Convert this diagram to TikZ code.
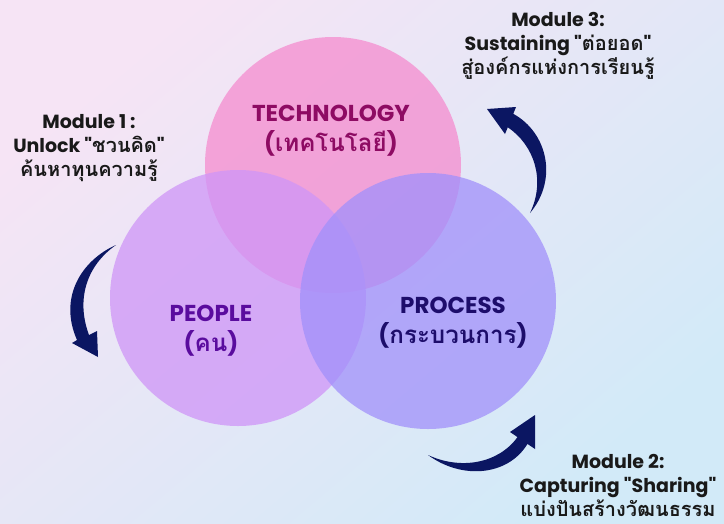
\documentclass[tikz,border=0pt]{standalone}
\usepackage{fontspec}
\usepackage{xcolor}
\usepackage{tikz}
\usetikzlibrary{positioning}
\setmainfont{Poppins}[Ligatures=TeXOff]
\newfontfamily\thai[Script=Thai, Scale=1.05]{Loma}

\definecolor{bgpink}{HTML}{F6E4F5}
\definecolor{bgblue}{HTML}{D2EAF8}
\definecolor{techfill}{HTML}{F58CCF}
\definecolor{peoplefill}{HTML}{CF95F7}
\definecolor{processfill}{HTML}{A190FB}
\definecolor{techtext}{HTML}{8E0B63}
\definecolor{peopletext}{HTML}{5A0C9E}
\definecolor{processtext}{HTML}{1D0D6B}
\definecolor{arrowblue}{HTML}{0B1662}

\tikzset{
	x=1pt, y=-1pt, % pixel grid of the picture
	venn/.style={circle, minimum size=256pt, inner sep=0pt, fill opacity=0.75},
	circlelabel/.style={font=\bfseries\fontsize{23}{30}\selectfont, align=center},
	modtext/.style={font=\bfseries\fontsize{19}{24}\selectfont, align=center, text=black!90, inner sep=0pt},
	bigarrow/.style={fill=arrowblue},
}

\begin{document}
\begin{tikzpicture}

      \useasboundingbox (0,0) rectangle (724,523);
      \shade[top color=bgpink, bottom color=bgblue, shading angle=40] (0,0) rectangle (724,523);

      % the three circles
      \node[venn, fill=techfill] (tech) at (333,165) {};
      \node[venn, fill=peoplefill] (people) at (238,298) {};
      \node[venn, fill=processfill] (process) at (428,301) {};

      \node[circlelabel, text=techtext] (techlbl) at (331,131) {TECHNOLOGY\\({\thai เทคโนโลยี})};
      \node[circlelabel, text=peopletext] (peoplelbl) at (211,331) {PEOPLE\\({\thai คน})};
      \node[circlelabel, text=processtext] (processlbl) at (453,323) {PROCESS\\({\thai กระบวนการ})};

      % modules
      \node[modtext] (mod1) at (89,148) {Module 1 :\\Unlock "{\thai ชวนคิด}"\\{\thai ค้นหาทุนความรู้}};
      \node[modtext] (mod3) at (558,46) {Module 3:\\Sustaining "{\thai ต่อยอด}"\\{\thai สู่องค์กรแห่งการเรียนรู้}};
      \node[modtext] (mod2) at (618,485) {Module 2:\\Capturing "Sharing"\\{\thai แบ่งปันสร้างวัฒนธรรม}};

      % curved arrows
      \fill[bigarrow] (116,245) .. controls (82,260) and (58,297) .. (77,340)
            -- (72,343) -- (98,357) -- (97,331) -- (89,335)
            .. controls (76,300) and (86,266) .. (116,245) -- cycle;
      \fill[bigarrow] (428,455) .. controls (462,480) and (508,476) .. (527.5,443.9)
            -- (535,449) -- (535,415) -- (510,432) -- (517.5,437.1)
            .. controls (498,464) and (460,470) .. (428,455) -- cycle;
      \fill[bigarrow] (530,213) .. controls (558,180) and (548,133) .. (513.3,113.8)
            -- (516,107) -- (487,109) -- (505,134) -- (507.8,127.3)
            .. controls (534,145) and (546,180) .. (530,213) -- cycle;

    \end{tikzpicture}
\end{document}
